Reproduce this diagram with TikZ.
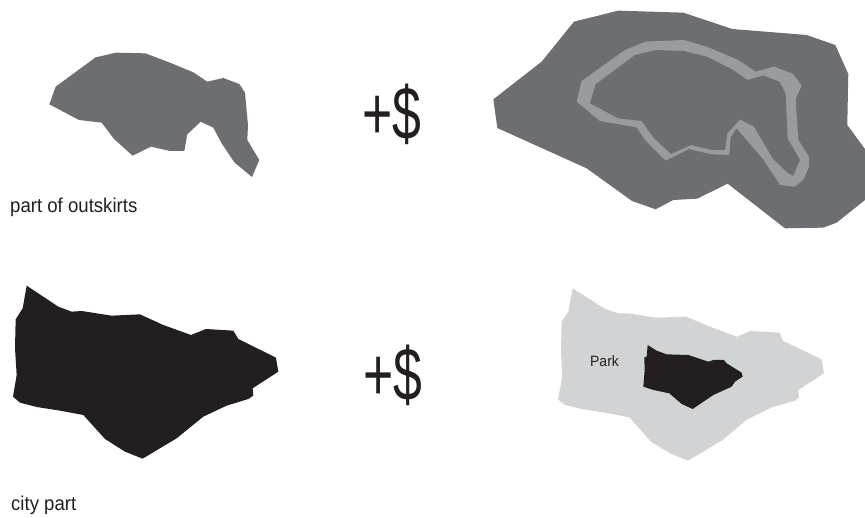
\documentclass[tikz,border=0pt]{standalone}
\usepackage{fontspec}
\setmainfont{Liberation Sans}
\definecolor{darkgrey}{HTML}{6D6E71}
\definecolor{ringgrey}{HTML}{9A9B9F}
\definecolor{lightgrey}{HTML}{D1D3D4}
\definecolor{nearblack}{HTML}{231F20}
\tikzset{
  zoomA/.style={shift={(0pt,-30pt)},x=0.3333pt,y=-0.3333pt},
  zoomB/.style={shift={(480pt,0pt)},x=0.3333pt,y=-0.3333pt},
  zoomC/.style={shift={(0pt,-275pt)},x=0.3333pt,y=-0.3333pt},
  zoomD/.style={shift={(550pt,-280pt)},x=0.3333pt,y=-0.3333pt},
  caption/.style={anchor=base west,inner sep=0pt,text=nearblack,font=\fontsize{20}{24}\selectfont,xscale=0.93},
  parklabel/.style={anchor=base west,inner sep=0pt,text=nearblack,font=\fontsize{15}{18}\selectfont,xscale=0.93},
  plusdollar/.style={anchor=base,inner sep=0pt,text=nearblack,font=\fontsize{75}{80}\selectfont,xscale=0.69}
}
\begin{document}
\begin{tikzpicture}[x=1pt,y=-1pt]
\useasboundingbox (0,0) rectangle (865,517);
\fill[white] (0,0) rectangle (865,517);
\begin{scope}[zoomA]
\fill[darkgrey] (148,223)--(167,170)--(287,82)--(348,68)--(436,70)--(510,98)--(580,127)--(622,155)--(670,144)--(718,162)--(735,188)--(744,285)--(742,330)--(778,390)--(756,441)--(703,397)--(665,340)--(640,293)--(602,275)--(562,313)--(553,363)--(510,363)--(453,350)--(398,377)--(342,327)--(305,278)--(237,270)--cycle;
\end{scope}
\begin{scope}[zoomB]
\fill[darkgrey] (40,298)--(52,384)--(320,505)--(456,603)--(527,628)--(580,600)--(652,596)--(743,551)--(915,685)--(1030,683)--(1070,668)--(1155,600)--(1155,447)--(1102,375)--(1105,222)--(1066,135)--(980,105)--(757,87)--(610,38)--(415,32)--(282,65)--(185,185)--cycle;
\fill[ringgrey] (290,305)--(305,243)--(435,150)--(497,125)--(612,120)--(680,140)--(775,180)--(827,215)--(882,200)--(940,222)--(965,257)--(947,297)--(955,420)--(987,470)--(987,500)--(970,540)--(945,560)--(900,555)--(850,478)--(770,385)--(752,412)--(748,465)--(695,463)--(627,447)--(557,482)--(495,420)--(470,382)--(360,363)--cycle;
\fill[darkgrey] (330,310)--(347,253)--(465,165)--(527,150)--(612,153)--(680,170)--(760,210)--(802,240)--(850,227)--(898,245)--(917,280)--(923,415)--(960,480)--(940,527)--(925,520)--(880,478)--(822,380)--(780,358)--(742,400)--(735,450)--(695,450)--(633,435)--(573,462)--(520,412)--(485,363)--(415,355)--cycle;
\end{scope}
\begin{scope}[zoomC]
\fill[nearblack] (80,32)--(68,100)--(47,133)--(45,220)--(50,300)--(39,365)--(60,383)--(110,396)--(180,407)--(250,420)--(315,492)--(375,530)--(428,551)--(530,490)--(610,425)--(680,392)--(745,372)--(760,362)--(758,340)--(835,290)--(828,248)--(715,192)--(700,167)--(618,162)--(573,180)--(490,150)--(420,118)--(335,122)--(245,108)--(215,110)--(175,95)--cycle;
\end{scope}
\begin{scope}[zoomD]
\fill[lightgrey] (68,25)--(55,95)--(35,125)--(33,210)--(37,290)--(24,358)--(45,375)--(95,387)--(165,398)--(238,412)--(303,485)--(360,520)--(414,542)--(515,482)--(592,418)--(665,382)--(735,362)--(747,352)--(745,330)--(822,280)--(815,238)--(700,183)--(688,158)--(603,153)--(560,170)--(480,140)--(408,110)--(320,113)--(235,100)--(205,100)--(165,87)--cycle;
\fill[nearblack] (293,195)--(290,230)--(283,232)--(284,270)--(280,320)--(310,330)--(358,340)--(395,372)--(428,387)--(490,345)--(545,320)--(555,305)--(578,290)--(575,278)--(530,250)--(522,240)--(490,240)--(475,245)--(415,225)--(350,223)--(320,212)--cycle;
\end{scope}
\node[caption] (outskirts) at (10,212.5) {part of outskirts};
\node[caption] (city) at (11,510) {city part};
\node[parklabel] (park) at (590,366) {Park};
\node[plusdollar] (sumA) at (392,139) {+\$};
\node[plusdollar] (sumB) at (392.5,400) {+\$};
\end{tikzpicture}
\end{document}
